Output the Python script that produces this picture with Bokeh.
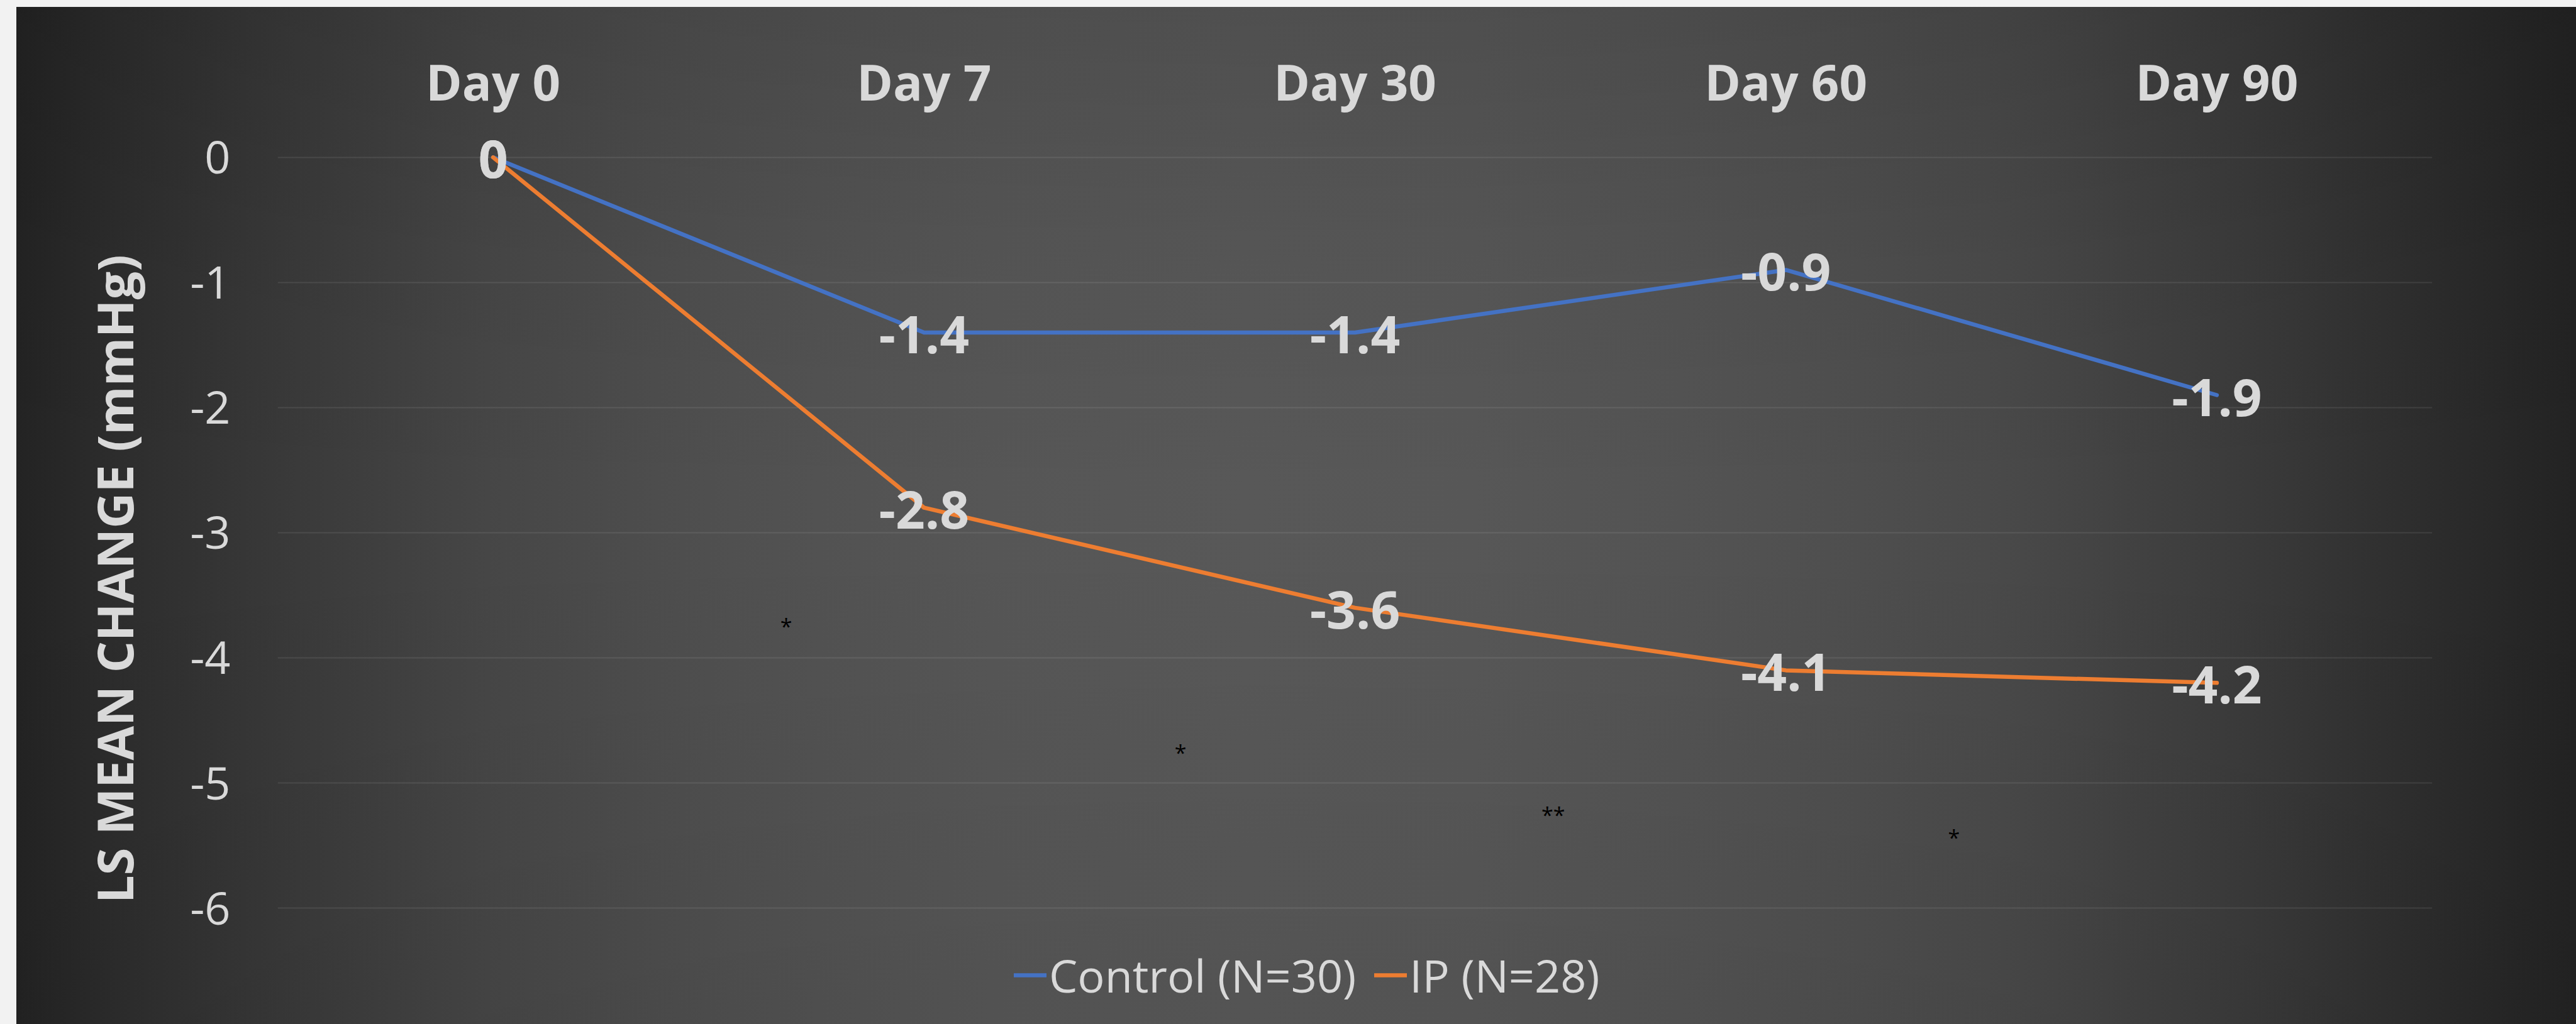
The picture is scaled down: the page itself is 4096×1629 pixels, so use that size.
from bokeh.plotting import figure
from bokeh.models import Range1d, FixedTicker, Legend, LegendItem, ColumnDataSource
from bokeh.core.properties import value
from bokeh.embed import file_html
from bokeh.resources import INLINE

# ---- data ----
days = ["Day 0", "Day 7", "Day 30", "Day 60", "Day 90"]
control = [0, -1.4, -1.4, -0.9, -1.9]
ip = [0, -2.8, -3.6, -4.1, -4.2]
series_names = ["Control (N=30)", "IP (N=28)"]
y_ticks = [0, -1, -2, -3, -4, -5, -6]
y_tick_labels = ["0", "-1", "-2", "-3", "-4", "-5", "-6"]
star_x = [0.68, 1.595, 2.46, 3.39]
star_y = [-3.71, -4.72, -5.22, -5.40]
star_text = ["*", "*", "**", "*"]

xs = list(range(len(days)))

W, H = 4096, 1629
p = figure(width=W, height=H, output_backend="svg", toolbar_location=None,
           x_range=Range1d(-0.5, len(days) - 0.5), y_range=Range1d(-6.929, 0.19),
           x_axis_location="above", y_axis_location="left",
           min_border_left=441, min_border_right=229,
           min_border_top=212, min_border_bottom=0)

p.background_fill_color = None
p.border_fill_color = None
p.outline_line_color = None

p.styles = {
    "background-color": "#f2f2f2",
    "background-image": (
        "linear-gradient(to bottom, rgba(0,0,0,0.10) 0%, rgba(0,0,0,0.03) 25%, "
        "rgba(0,0,0,0) 50%, rgba(0,0,0,0.05) 100%), "
        "linear-gradient(to right, #232323 0%, #2d2d2d 4%, #3a3a3a 11%, #474747 19%, "
        "#505050 28%, #565656 38%, #585858 48%, #575757 57%, #525252 67%, #4a4a4a 77%, "
        "#3e3e3e 85%, #353535 90%, #2b2b2b 95%, #232323 100%)"
    ),
    "background-position": "26px 11px, 26px 11px",
    "background-size": "calc(100% - 26px) calc(100% - 11px), calc(100% - 26px) calc(100% - 11px)",
    "background-repeat": "no-repeat, no-repeat",
}

TXT = "#d9d9d9"

# x axis (above) with day labels
xa = p.xaxis[0]
xa.ticker = FixedTicker(ticks=xs)
xa.major_label_overrides = {i: d for i, d in zip(xs, days)}
xa.axis_line_color = None
xa.major_tick_line_color = None
xa.minor_tick_line_color = None
xa.major_tick_out = 0
xa.major_label_text_font = "Open Sans"
xa.major_label_text_font_style = "bold"
xa.major_label_text_font_size = "78px"
xa.major_label_text_color = TXT
xa.major_label_standoff = 30
p.xgrid.grid_line_color = None

# y axis
ya = p.yaxis[0]
ya.ticker = FixedTicker(ticks=y_ticks)
ya.major_label_overrides = {t: s for t, s in zip(y_ticks, y_tick_labels)}
ya.axis_line_color = None
ya.major_tick_line_color = None
ya.minor_tick_line_color = None
ya.major_tick_out = 0
ya.major_label_text_font = "Open Sans"
ya.major_label_text_font_size = "72px"
ya.major_label_text_color = TXT
ya.major_label_standoff = 75
ya.axis_label = "LS MEAN CHANGE (mmHg)"
ya.axis_label_text_font = "Open Sans"
ya.axis_label_text_font_style = "bold"
ya.axis_label_text_font_size = "79px"
ya.axis_label_text_color = TXT
ya.axis_label_standoff = 64
p.ygrid.ticker = FixedTicker(ticks=y_ticks)
p.ygrid.grid_line_color = "#ffffff"
p.ygrid.grid_line_alpha = 0.09
p.ygrid.grid_line_width = 2

# lines
r1 = p.line(xs, control, line_color="#4472C4", line_width=6.5,
            line_join="round", line_cap="round")
r2 = p.line(xs, ip, line_color="#ED7D31", line_width=6.5,
            line_join="round", line_cap="round")

# data labels
lab_src = ColumnDataSource(dict(
    x=xs + xs,
    y=control + ip,
    t=[f"{v:g}" for v in control] + [f"{v:g}" for v in ip],
))
p.text(x="x", y="y", text="t", source=lab_src,
       text_font=value("Open Sans"), text_font_style="bold",
       text_font_size="82px", text_color=TXT,
       text_align="center", text_baseline="middle", y_offset=3)

# significance markers
star_src = ColumnDataSource(dict(x=star_x, y=star_y, t=star_text))
p.text(x="x", y="y", text="t", source=star_src,
       text_font=value("Open Sans"), text_font_size="34px", text_color="#000000",
       text_align="center", text_baseline="middle", y_offset=7)

legend = Legend(items=[LegendItem(label=series_names[0], renderers=[r1]),
                       LegendItem(label=series_names[1], renderers=[r2])],
                orientation="horizontal", location=(1171, 28),
                label_text_font="Open Sans", label_text_font_size="72px",
                label_text_color=TXT, glyph_width=52, glyph_height=100,
                label_height=100, label_standoff=4, spacing=29,
                padding=0, margin=0, border_line_color=None,
                background_fill_alpha=0)
p.add_layout(legend, "center")

open("out.html", "w").write(file_html(p, INLINE))
